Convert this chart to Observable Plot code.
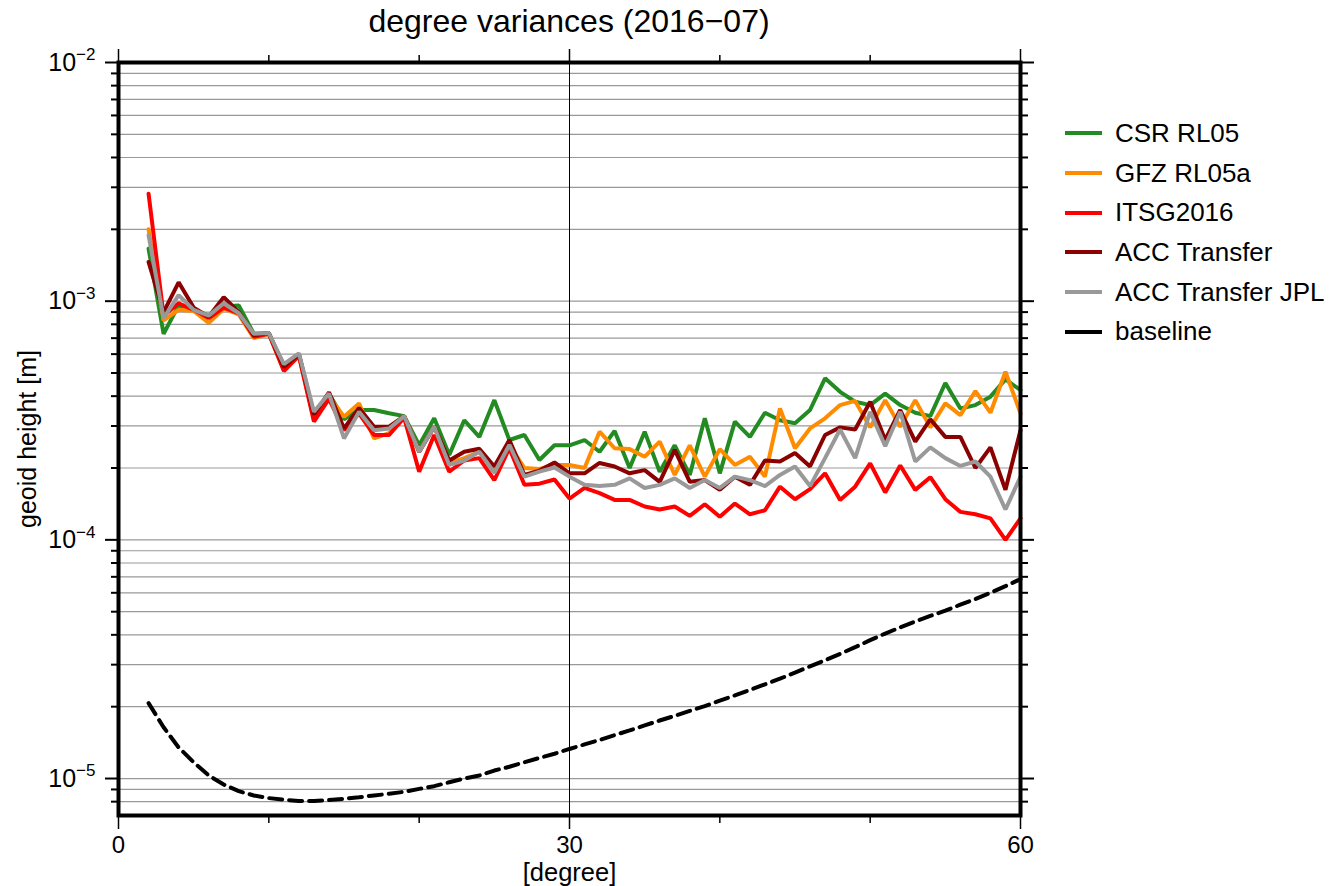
<!DOCTYPE html>
<html><head><meta charset="utf-8">
<script src="https://cdn.jsdelivr.net/npm/d3@7"></script>
<script src="https://cdn.jsdelivr.net/npm/@observablehq/plot@0.6"></script>
<style>
body{margin:0;background:#fff;}
#wrap{position:relative;width:1333px;height:886px;font-family:"Liberation Sans",Arial,Helvetica,sans-serif;color:#000;}
#plot{position:absolute;left:0;top:0;}
#title{position:absolute;left:118px;width:902px;top:2px;text-align:center;font-size:32px;line-height:38px;}
.leg{position:absolute;left:1065px;height:30px;display:flex;align-items:center;font-size:26px;white-space:nowrap;}
.leg .sw{width:37px;height:4px;margin-right:13px;}
</style></head><body>
<div id="wrap"><div id="plot"></div><div id="title">degree variances (2016−07)</div></div>
<script>
const degrees = [2,3,4,5,6,7,8,9,10,11,12,13,14,15,16,17,18,19,20,21,22,23,24,25,26,27,28,29,30,31,32,33,34,35,36,37,38,39,40,41,42,43,44,45,46,47,48,49,50,51,52,53,54,55,56,57,58,59,60];

const csrRL05 = [1.66e-3,7.3e-4,9.6e-4,9.2e-4,8.7e-4,9.5e-4,9.6e-4,7.3e-4,7.35e-4,5.3e-4,6.0e-4,3.3e-4,4.1e-4,3.2e-4,3.5e-4,3.5e-4,3.39e-4,3.3e-4,2.49e-4,3.23e-4,2.27e-4,3.17e-4,2.7e-4,3.85e-4,2.62e-4,2.75e-4,2.16e-4,2.49e-4,2.49e-4,2.62e-4,2.34e-4,2.86e-4,2.0e-4,2.84e-4,1.93e-4,2.49e-4,1.87e-4,3.23e-4,1.9e-4,3.13e-4,2.7e-4,3.41e-4,3.17e-4,3.08e-4,3.5e-4,4.75e-4,4.17e-4,3.79e-4,3.67e-4,4.1e-4,3.67e-4,3.41e-4,3.3e-4,4.54e-4,3.55e-4,3.67e-4,3.98e-4,4.7e-4,4.24e-4];

const gfzRL05a = [2.0e-3,8.3e-4,9.2e-4,9.1e-4,8.1e-4,9.3e-4,8.8e-4,7.0e-4,7.3e-4,5.15e-4,5.9e-4,3.2e-4,4.0e-4,3.28e-4,3.73e-4,2.66e-4,2.8e-4,3.3e-4,2.34e-4,2.98e-4,2.1e-4,2.2e-4,2.34e-4,1.95e-4,2.5e-4,2.0e-4,1.98e-4,2.06e-4,2.06e-4,2.0e-4,2.84e-4,2.42e-4,2.4e-4,2.23e-4,2.58e-4,1.87e-4,2.49e-4,1.84e-4,2.4e-4,2.06e-4,2.23e-4,1.84e-4,3.55e-4,2.42e-4,2.93e-4,3.23e-4,3.67e-4,3.82e-4,2.96e-4,3.85e-4,2.98e-4,3.85e-4,2.96e-4,3.73e-4,3.33e-4,4.2e-4,3.41e-4,5.06e-4,3.39e-4];

const itsg2016 = [2.82e-3,8.7e-4,9.8e-4,9.2e-4,8.5e-4,9.4e-4,8.9e-4,7.1e-4,7.3e-4,5.1e-4,5.9e-4,3.13e-4,3.9e-4,2.88e-4,3.39e-4,2.75e-4,2.75e-4,3.25e-4,1.93e-4,2.75e-4,1.93e-4,2.15e-4,2.2e-4,1.78e-4,2.42e-4,1.7e-4,1.72e-4,1.79e-4,1.49e-4,1.65e-4,1.57e-4,1.47e-4,1.47e-4,1.38e-4,1.34e-4,1.38e-4,1.26e-4,1.41e-4,1.25e-4,1.42e-4,1.28e-4,1.33e-4,1.67e-4,1.48e-4,1.63e-4,1.9e-4,1.47e-4,1.67e-4,2.09e-4,1.58e-4,2.05e-4,1.62e-4,1.83e-4,1.48e-4,1.31e-4,1.28e-4,1.23e-4,1.0e-4,1.23e-4];

const accTransfer = [1.46e-3,9.0e-4,1.2e-3,9.4e-4,8.6e-4,1.04e-3,9.0e-4,7.2e-4,7.35e-4,5.3e-4,6.0e-4,3.35e-4,4.15e-4,2.93e-4,3.57e-4,2.98e-4,2.98e-4,3.3e-4,2.34e-4,2.98e-4,2.15e-4,2.34e-4,2.41e-4,2.03e-4,2.62e-4,1.87e-4,1.95e-4,2.11e-4,1.9e-4,1.9e-4,2.1e-4,2.03e-4,1.9e-4,1.96e-4,1.75e-4,2.38e-4,1.75e-4,1.78e-4,1.62e-4,1.84e-4,1.7e-4,2.15e-4,2.13e-4,2.31e-4,2.03e-4,2.75e-4,2.96e-4,2.9e-4,3.79e-4,2.62e-4,3.5e-4,2.58e-4,3.2e-4,2.7e-4,2.7e-4,2.0e-4,2.44e-4,1.62e-4,2.88e-4];

const accTransferJPL = [1.89e-3,8.5e-4,1.06e-3,9.2e-4,8.7e-4,9.8e-4,8.9e-4,7.3e-4,7.35e-4,5.45e-4,6.05e-4,3.44e-4,4.1e-4,2.66e-4,3.44e-4,2.88e-4,2.93e-4,3.3e-4,2.34e-4,2.98e-4,2.06e-4,2.15e-4,2.34e-4,1.91e-4,2.5e-4,1.84e-4,1.93e-4,2.01e-4,1.84e-4,1.7e-4,1.68e-4,1.7e-4,1.81e-4,1.65e-4,1.7e-4,1.81e-4,1.65e-4,1.78e-4,1.65e-4,1.84e-4,1.78e-4,1.68e-4,1.87e-4,2.03e-4,1.68e-4,2.2e-4,2.9e-4,2.2e-4,3.44e-4,2.47e-4,3.44e-4,2.13e-4,2.44e-4,2.2e-4,2.04e-4,2.13e-4,1.84e-4,1.34e-4,1.84e-4];

const baseline = [2.07e-5,1.64e-5,1.35e-5,1.17e-5,1.03e-5,9.44e-6,8.85e-6,8.49e-6,8.28e-6,8.15e-6,8.06e-6,8.06e-6,8.12e-6,8.22e-6,8.35e-6,8.49e-6,8.63e-6,8.8e-6,9.05e-6,9.29e-6,9.65e-6,1.0e-5,1.03e-5,1.08e-5,1.12e-5,1.17e-5,1.22e-5,1.27e-5,1.33e-5,1.39e-5,1.45e-5,1.52e-5,1.59e-5,1.67e-5,1.75e-5,1.83e-5,1.92e-5,2.01e-5,2.12e-5,2.23e-5,2.35e-5,2.48e-5,2.62e-5,2.78e-5,2.95e-5,3.13e-5,3.33e-5,3.55e-5,3.8e-5,4.05e-5,4.3e-5,4.55e-5,4.8e-5,5.05e-5,5.35e-5,5.65e-5,6.0e-5,6.4e-5,6.85e-5];

const seriesNames = ["CSR RL05","GFZ RL05a","ITSG2016","ACC Transfer","ACC Transfer JPL","baseline"];
const seriesValues = [csrRL05, gfzRL05a, itsg2016, accTransfer, accTransferJPL, baseline];
const seriesColors = ["#228b22","#ff8c00","#ff0000","#8b0000","#999999","#000000"];

const yMajorTicks = [1e-5, 1e-4, 1e-3, 1e-2];
const yMinorTicks = [8e-6,9e-6,
  2e-5,3e-5,4e-5,5e-5,6e-5,7e-5,8e-5,9e-5,
  2e-4,3e-4,4e-4,5e-4,6e-4,7e-4,8e-4,9e-4,
  2e-3,3e-3,4e-3,5e-3,6e-3,7e-3,8e-3,9e-3];
const yGrid = [...yMinorTicks, ...yMajorTicks];
const xMajorTicks = [0, 30, 60];
const xMinorTicks = [10, 20, 40, 50];
const xGrid = [30];

const rows = seriesValues.map(vals => degrees.map((d, i) => ({degree: d, value: vals[i]})));
const none = () => "";
const supFmt = d => "10^" + String(Math.round(Math.log10(d))).replace("-", "−");

const lineMarks = rows.map((r, k) => Plot.line(r, {
  x: "degree", y: "value",
  stroke: seriesColors[k],
  strokeWidth: 4,
  strokeDasharray: k === 5 ? "13,7" : null,
  strokeLinejoin: "miter"
}));

const chart = Plot.plot({
  width: 1333, height: 886,
  marginLeft: 118, marginRight: 313, marginTop: 62, marginBottom: 71,
  style: {fontSize: "25px", fontFamily: "'Liberation Sans', Arial, Helvetica, sans-serif", color: "#000", background: "transparent"},
  x: {domain: [0, 60]},
  y: {type: "log", domain: [7e-6, 1e-2]},
  marks: [
    Plot.ruleY(yGrid, {stroke: "#999999", strokeWidth: 1.2}),
    Plot.ruleX(xGrid, {stroke: "#000", strokeWidth: 1}),
    ...lineMarks,
    Plot.axisY(yMajorTicks, {anchor: "left", tickSize: 13, tickPadding: 10, strokeWidth: 2, tickFormat: supFmt,
      label: "geoid height [m]", labelAnchor: "center", labelOffset: 100, labelArrow: "none"}),
    Plot.axisY(yMinorTicks, {anchor: "left", tickSize: 7, strokeWidth: 2, tickFormat: none, label: null}),
    Plot.axisY(yMajorTicks, {anchor: "right", tickSize: 13, strokeWidth: 2, tickFormat: none, label: null}),
    Plot.axisY(yMinorTicks, {anchor: "right", tickSize: 7, strokeWidth: 2, tickFormat: none, label: null}),
    Plot.axisX(xMajorTicks, {anchor: "bottom", tickSize: 14, tickPadding: 6, strokeWidth: 1.5, fontSize: 24,
      label: "[degree]", labelAnchor: "center", labelOffset: 65, labelArrow: "none"}),
    Plot.axisX(xMinorTicks, {anchor: "bottom", tickSize: 8, strokeWidth: 1.5, tickFormat: none, label: null}),
    Plot.axisX(xMajorTicks, {anchor: "top", tickSize: 14, strokeWidth: 1.5, tickFormat: none, label: null}),
    Plot.axisX(xMinorTicks, {anchor: "top", tickSize: 8, strokeWidth: 1.5, tickFormat: none, label: null}),
    Plot.frame({stroke: "#000", strokeWidth: 4})
  ]
});
document.getElementById("plot").appendChild(chart);

// superscript exponents on y tick labels; strip any label arrows; enlarge x label
d3.select(chart).selectAll("text").each(function() {
  const t = this.textContent;
  if (t.startsWith("10^")) {
    const exp = t.slice(3);
    const sel = d3.select(this);
    sel.text("10");
    sel.append("tspan").attr("dy", "-0.6em").attr("font-size", "0.68em").text(exp);
  } else if (/[→↑↓←]/.test(t)) {
    d3.select(this).text(t.replace(/\s*[→↑↓←]\s*/g, "").trim());
  }
  if (this.textContent === "[degree]") {
    d3.select(this).attr("font-size", "25.5px");
  }
});

// legend
const wrap = document.getElementById("wrap");
seriesNames.forEach((name, i) => {
  const row = document.createElement("div");
  row.className = "leg";
  row.style.top = (133.3 + i * 39.7 - 15) + "px";
  const sw = document.createElement("span");
  sw.className = "sw";
  sw.style.background = seriesColors[i];
  const lab = document.createElement("span");
  lab.textContent = name;
  row.appendChild(sw); row.appendChild(lab);
  wrap.appendChild(row);
});
</script>
</body></html>
